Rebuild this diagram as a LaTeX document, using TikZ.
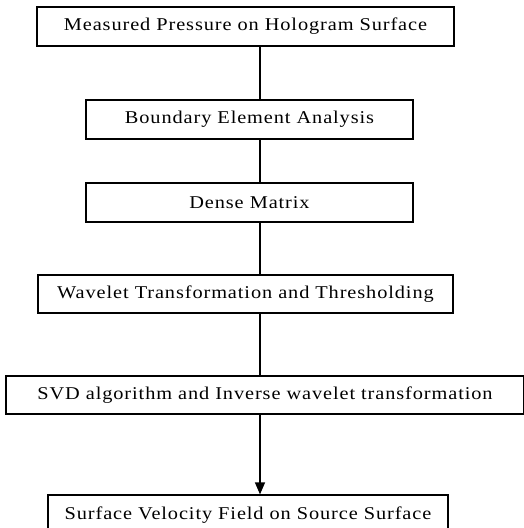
\documentclass[tikz,border=0pt]{standalone}
\usepackage{fontspec}
\usetikzlibrary{arrows.meta}
\newfontfamily\boxfont{Liberation Serif}[FakeStretch=1.13,LetterSpace=5]
\tikzset{
  stage/.style={draw, line width=1.2pt, inner sep=0pt, minimum height=39pt,
    font=\boxfont\fontsize{18}{20}\selectfont},
  flow/.style={line width=1.3pt}
}
\begin{document}
\begin{tikzpicture}[x=1pt,y=-1pt]
  \useasboundingbox (0,0) rectangle (524,528);
  \node[stage, minimum width=417pt] (hologram) at (245.5,26.5) {Measured Pressure on Hologram Surface};
  \node[stage, minimum width=327pt] (bem) at (249.5,119.5) {Boundary Element Analysis};
  \node[stage, minimum width=327pt] (dense) at (249.5,202.5) {Dense Matrix};
  \node[stage, minimum width=415pt, minimum height=38pt] (wavelet) at (245.5,294) {Wavelet Transformation and Thresholding};
  \node[stage, minimum width=518pt, minimum height=38pt] (svd) at (265,395) {SVD algorithm and Inverse wavelet transformation};
  \node[stage, minimum width=400pt, minimum height=40pt] (velocity) at (248,515) {Surface Velocity Field on Source Surface};
  \coordinate (spine) at (260,0);

  \draw[flow] (hologram.south -| spine) -- (bem.north -| spine);
  \draw[flow] (bem.south -| spine) -- (dense.north -| spine);
  \draw[flow] (dense.south -| spine) -- (wavelet.north -| spine);
  \draw[flow] (wavelet.south -| spine) -- (svd.north -| spine);
  \draw[flow, -{Triangle[width=10pt,length=12pt]}] (svd.south -| spine) -- (velocity.north -| spine);
\end{tikzpicture}
\end{document}
